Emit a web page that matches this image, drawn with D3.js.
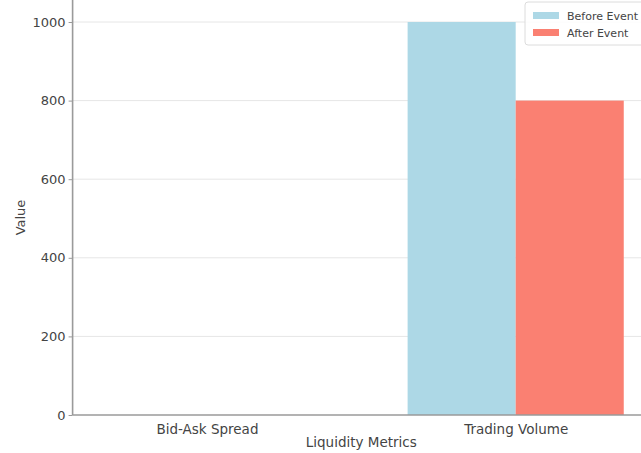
<!DOCTYPE html>
<html>
<head>
<meta charset="utf-8">
<script src="https://cdn.jsdelivr.net/npm/d3@7"></script>
<style>
  html, body { margin: 0; padding: 0; background: #fff; }
  svg { display: block; font-family: "DejaVu Sans", sans-serif; }
</style>
</head>
<body>
<svg id="chart" width="641" height="453"></svg>
<script>
const categories = ["Bid-Ask Spread", "Trading Volume"];
const seriesNames = ["Before Event", "After Event"];
const beforeValues = [0.05, 1000];
const afterValues = [0.07, 800];
const yTicks = [0, 200, 400, 600, 800, 1000];
const colors = ["#add8e6", "#fa8072"];

const svg = d3.select("#chart");
const W = 641, H = 453;

const x = d3.scaleLinear().domain([-0.435, 1.435]).range([72.6, 650]);
const y = d3.scaleLinear().domain([0, 1000]).range([415, 22]);
const barW = 0.35;

// grid
svg.append("g").selectAll("line").data(yTicks.filter(d => d > 0)).join("line")
  .attr("x1", x(-0.435)).attr("x2", W)
  .attr("y1", d => y(d)).attr("y2", d => y(d))
  .attr("stroke", "#e6e6e6").attr("stroke-width", 1);

// bars
const series = [beforeValues, afterValues];
series.forEach((vals, si) => {
  svg.append("g").selectAll("rect").data(vals).join("rect")
    .attr("x", (d, i) => x(i + (si === 0 ? -barW : 0)))
    .attr("width", x(barW) - x(0))
    .attr("y", d => y(d))
    .attr("height", d => y(0) - y(d))
    .attr("fill", colors[si]);
});

// y axis
const yAxis = d3.axisLeft(y).tickValues(yTicks).tickSize(4).tickPadding(3).tickFormat(d3.format("d"));
const gy = svg.append("g").attr("transform", `translate(${x(-0.435)},0)`).call(yAxis);
gy.select(".domain").remove();
gy.selectAll(".tick line").attr("stroke", "#999");
gy.selectAll(".tick text").attr("fill", "#444").style("font-size", "13px").style("font-family", "DejaVu Sans");
svg.append("line").attr("x1", x(-0.435)).attr("x2", x(-0.435)).attr("y1", 0).attr("y2", y(0))
  .attr("stroke", "#9a9a9a").attr("stroke-width", 1.6);

// x axis
const xAxis = d3.axisBottom(x).tickValues(categories.map((c, i) => i)).tickFormat(i => categories[i]).tickSize(0).tickPadding(9);
const gx = svg.append("g").attr("transform", `translate(0,${y(0)})`).call(xAxis);
gx.select(".domain").remove();
gx.selectAll(".tick text").attr("fill", "#444").style("font-size", "13.5px").style("font-family", "DejaVu Sans");
svg.append("line").attr("x1", x(-0.435)).attr("x2", W).attr("y1", y(0)).attr("y2", y(0))
  .attr("stroke", "#9a9a9a").attr("stroke-width", 1.6);

// axis labels
svg.append("text").attr("x", (x(-0.435) + x(1.435)) / 2).attr("y", 447)
  .attr("text-anchor", "middle").attr("fill", "#444").style("font-size", "13.5px").text("Liquidity Metrics");
svg.append("text").attr("transform", `translate(25,${(y(0) + 0) / 2 + 10}) rotate(-90)`)
  .attr("text-anchor", "middle").attr("fill", "#444").style("font-size", "13px").text("Value");

// legend
const lg = svg.append("g").attr("transform", "translate(525,2)");
lg.append("rect").attr("x", 0).attr("y", 0).attr("width", 130).attr("height", 43).attr("rx", 3)
  .attr("fill", "#fff").attr("fill-opacity", 0.85).attr("stroke", "#dcdcdc");
seriesNames.forEach((n, i) => {
  lg.append("rect").attr("x", 8).attr("y", 10 + i * 17).attr("width", 26).attr("height", 7).attr("fill", colors[i]);
  lg.append("text").attr("x", 42).attr("y", 18 + i * 17).attr("fill", "#444").style("font-size", "11px").text(n);
});
</script>
</body>
</html>
